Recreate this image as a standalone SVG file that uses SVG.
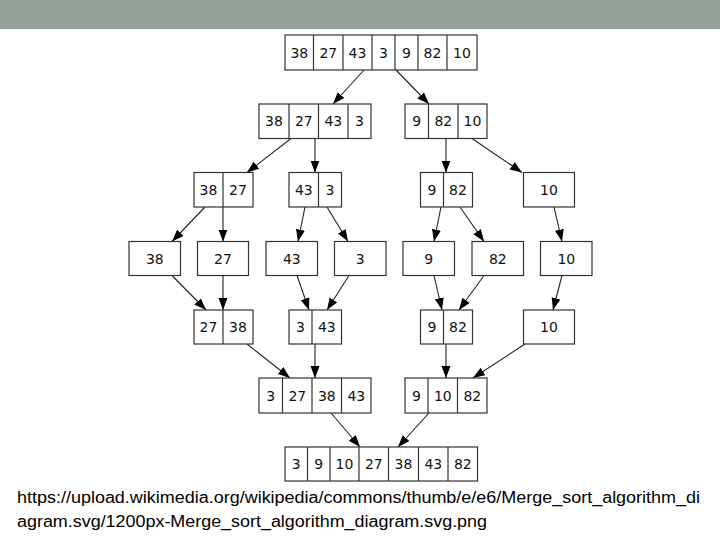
<svg xmlns="http://www.w3.org/2000/svg" width="720" height="540" viewBox="0 0 720 540">
<defs>
<style>
.box{fill:#fff;stroke:#333;stroke-width:1.2}
.div{stroke:#333;stroke-width:1.2}
.num{font-family:"DejaVu Sans",sans-serif;font-size:14px;fill:#111;text-anchor:middle}
.edge{stroke:#222;stroke-width:1.1;fill:none;marker-end:url(#ah)}
.cap{font-family:"Liberation Sans",Arial,sans-serif;font-size:16px;fill:#000}
</style>
<marker id="ah" markerUnits="userSpaceOnUse" markerWidth="13" markerHeight="10" refX="12" refY="4.5" orient="auto">
<path d="M0,0 L12,4.5 L0,9 Z" fill="#000"/>
</marker>
</defs>
<rect x="0" y="0" width="720" height="540" fill="#fff"/>
<rect x="0" y="0" width="720" height="29" fill="#94a298"/>

<g id="connectors">
<line class="edge" x1="364" y1="70" x2="333" y2="104"/>
<line class="edge" x1="396" y1="70" x2="429" y2="104"/>
<line class="edge" x1="291" y1="138.5" x2="247" y2="172.5"/>
<line class="edge" x1="315" y1="138.5" x2="315" y2="172.5"/>
<line class="edge" x1="446" y1="138.5" x2="446" y2="172.5"/>
<line class="edge" x1="472" y1="138.5" x2="522" y2="172.5"/>
<line class="edge" x1="205" y1="207" x2="172" y2="241.5"/>
<line class="edge" x1="223" y1="207" x2="223" y2="241.5"/>
<line class="edge" x1="305" y1="207" x2="298" y2="241.5"/>
<line class="edge" x1="327" y1="207" x2="348" y2="241.5"/>
<line class="edge" x1="441" y1="207" x2="434" y2="241.5"/>
<line class="edge" x1="460" y1="207" x2="484" y2="241.5"/>
<line class="edge" x1="554" y1="207" x2="562" y2="241.5"/>
<line class="edge" x1="172" y1="275.5" x2="206" y2="310"/>
<line class="edge" x1="223" y1="275.5" x2="223" y2="310"/>
<line class="edge" x1="297" y1="275.5" x2="309" y2="310"/>
<line class="edge" x1="349" y1="275.5" x2="327" y2="310"/>
<line class="edge" x1="434" y1="275.5" x2="442" y2="310"/>
<line class="edge" x1="484" y1="275.5" x2="459" y2="310"/>
<line class="edge" x1="562" y1="275.5" x2="553" y2="310"/>
<line class="edge" x1="247" y1="344" x2="290" y2="378"/>
<line class="edge" x1="315" y1="344" x2="315" y2="378"/>
<line class="edge" x1="446" y1="344" x2="446" y2="378"/>
<line class="edge" x1="525" y1="344" x2="473" y2="378"/>
<line class="edge" x1="331" y1="413" x2="360" y2="447"/>
<line class="edge" x1="429" y1="413" x2="398" y2="447"/>
</g>

<g id="n1">
<rect class="box" x="285" y="35" width="192" height="35"/>
<path class="div" d="M313.5,35V70M343,35V70M372,35V70M395,35V70M418,35V70M447,35V70"/>
<text class="num" x="299.3" y="57.5">38</text><text class="num" x="328.3" y="57.5">27</text><text class="num" x="357.5" y="57.5">43</text><text class="num" x="383.5" y="57.5">3</text><text class="num" x="406.5" y="57.5">9</text><text class="num" x="432.5" y="57.5">82</text><text class="num" x="462" y="57.5">10</text>
</g>

<g id="n2a">
<rect class="box" x="259" y="104" width="112" height="34.5"/>
<path class="div" d="M289,104V138.5M318.5,104V138.5M348,104V138.5"/>
<text class="num" x="274" y="126.3">38</text><text class="num" x="303.8" y="126.3">27</text><text class="num" x="333.3" y="126.3">43</text><text class="num" x="359.5" y="126.3">3</text>
</g>
<g id="n2b">
<rect class="box" x="405" y="104" width="82" height="34.5"/>
<path class="div" d="M428.5,104V138.5M458,104V138.5"/>
<text class="num" x="416.8" y="126.3">9</text><text class="num" x="443.3" y="126.3">82</text><text class="num" x="472.5" y="126.3">10</text>
</g>

<g id="n3a">
<rect class="box" x="194" y="172.5" width="59" height="34.5"/>
<path class="div" d="M223,172.5V207"/>
<text class="num" x="208.5" y="194.8">38</text><text class="num" x="238" y="194.8">27</text>
</g>
<g id="n3b">
<rect class="box" x="289" y="172.5" width="52.5" height="34.5"/>
<path class="div" d="M318.5,172.5V207"/>
<text class="num" x="303.8" y="194.8">43</text><text class="num" x="330" y="194.8">3</text>
</g>
<g id="n3c">
<rect class="box" x="420.5" y="172.5" width="52" height="34.5"/>
<path class="div" d="M443.5,172.5V207"/>
<text class="num" x="432" y="194.8">9</text><text class="num" x="458" y="194.8">82</text>
</g>
<g id="n3d">
<rect class="box" x="523.5" y="172.5" width="51" height="34.5"/>
<text class="num" x="549" y="194.8">10</text>
</g>

<g id="n4a"><rect class="box" x="129" y="241.5" width="51.5" height="34"/><text class="num" x="154.8" y="263.5">38</text></g>
<g id="n4b"><rect class="box" x="197.5" y="241.5" width="51" height="34"/><text class="num" x="223" y="263.5">27</text></g>
<g id="n4c"><rect class="box" x="266" y="241.5" width="51.5" height="34"/><text class="num" x="291.8" y="263.5">43</text></g>
<g id="n4d"><rect class="box" x="334.5" y="241.5" width="51.5" height="34"/><text class="num" x="360.3" y="263.5">3</text></g>
<g id="n4e"><rect class="box" x="403" y="241.5" width="51.5" height="34"/><text class="num" x="428.8" y="263.5">9</text></g>
<g id="n4f"><rect class="box" x="472" y="241.5" width="51.5" height="34"/><text class="num" x="497.8" y="263.5">82</text></g>
<g id="n4g"><rect class="box" x="540.5" y="241.5" width="51.5" height="34"/><text class="num" x="566.3" y="263.5">10</text></g>

<g id="n5a">
<rect class="box" x="194" y="310" width="59" height="34"/>
<path class="div" d="M223,310V344"/>
<text class="num" x="208.5" y="332">27</text><text class="num" x="238" y="332">38</text>
</g>
<g id="n5b">
<rect class="box" x="289" y="310" width="52.5" height="34"/>
<path class="div" d="M312,310V344"/>
<text class="num" x="300.5" y="332">3</text><text class="num" x="326.8" y="332">43</text>
</g>
<g id="n5c">
<rect class="box" x="420.5" y="310" width="52" height="34"/>
<path class="div" d="M443.5,310V344"/>
<text class="num" x="432" y="332">9</text><text class="num" x="458" y="332">82</text>
</g>
<g id="n5d">
<rect class="box" x="523.5" y="310" width="51" height="34"/>
<text class="num" x="549" y="332">10</text>
</g>

<g id="n6a">
<rect class="box" x="259" y="378" width="112" height="35"/>
<path class="div" d="M282.5,378V413M312,378V413M341.5,378V413"/>
<text class="num" x="270.8" y="400.5">3</text><text class="num" x="297.3" y="400.5">27</text><text class="num" x="326.8" y="400.5">38</text><text class="num" x="356.3" y="400.5">43</text>
</g>
<g id="n6b">
<rect class="box" x="405" y="378" width="82" height="35"/>
<path class="div" d="M428,378V413M457.5,378V413"/>
<text class="num" x="416.5" y="400.5">9</text><text class="num" x="442.8" y="400.5">10</text><text class="num" x="472.3" y="400.5">82</text>
</g>

<g id="n7">
<rect class="box" x="285" y="447" width="192.5" height="34"/>
<path class="div" d="M307.5,447V481M330,447V481M359,447V481M388.5,447V481M418.5,447V481M448,447V481"/>
<text class="num" x="296.3" y="469">3</text><text class="num" x="318.8" y="469">9</text><text class="num" x="344.5" y="469">10</text><text class="num" x="373.8" y="469">27</text><text class="num" x="403.5" y="469">38</text><text class="num" x="433.3" y="469">43</text><text class="num" x="462.8" y="469">82</text>
</g>

<text class="cap" x="17" y="503" textLength="683" lengthAdjust="spacingAndGlyphs">https://upload.wikimedia.org/wikipedia/commons/thumb/e/e6/Merge_sort_algorithm_di</text>
<text class="cap" x="17" y="527" textLength="470" lengthAdjust="spacingAndGlyphs">agram.svg/1200px-Merge_sort_algorithm_diagram.svg.png</text>
</svg>
